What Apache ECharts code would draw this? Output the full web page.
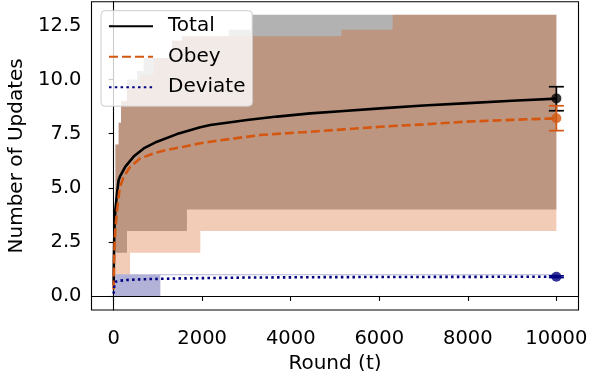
<!DOCTYPE html>
<html><head><meta charset="utf-8">
<script src="https://cdn.jsdelivr.net/npm/echarts@6/dist/echarts.min.js"></script>
<style>html,body{margin:0;padding:0;background:#fff}#c{width:589px;height:371px}</style>
</head><body><div id="c"></div>
<script>
// ---- data ----
const xTicks = [0, 2000, 4000, 6000, 8000, 10000];
const yTicks = [0, 2.5, 5, 7.5, 10, 12.5];
const totalT = [0, 8, 20, 38, 77, 113, 151, 264, 452, 678, 980, 1430, 1958, 2184, 3013, 3691, 4443, 5200, 6024, 7000, 7906, 9000, 10000];
const totalV = [0.5, 2.0, 3.2, 3.97, 4.75, 5.36, 5.55, 5.98, 6.44, 6.82, 7.13, 7.48, 7.8, 7.9, 8.13, 8.29, 8.44, 8.55, 8.67, 8.8, 8.9, 9.02, 9.12];
const obeyT = [0, 10, 20, 38, 77, 136, 226, 377, 603, 904, 1205, 1581, 1958, 2184, 3313, 4443, 5200, 6024, 7000, 7906, 9000, 10000];
const obeyV = [0.3, 1.5, 2.3, 3.1, 3.97, 4.98, 5.51, 5.98, 6.36, 6.59, 6.75, 6.9, 7.06, 7.13, 7.44, 7.59, 7.7, 7.82, 7.93, 8.05, 8.14, 8.21];
const devT = [0, 15, 40, 120, 300, 800, 1500, 3000, 5000, 7500, 10000];
const devV = [0.1, 0.5, 0.65, 0.7, 0.74, 0.78, 0.81, 0.85, 0.87, 0.88, 0.89];
// step bands: start times and values
const totalHiT = [40, 113, 167, 300, 527, 678, 1318, 1543, 2600, 3100];
const totalHiV = [7, 8, 9, 10, 10.4, 11, 11.8, 12, 12.3, 13];
const totalLoT = [40, 302, 1656];
const totalLoV = [2, 3, 4];
const obeyHiT = [40, 113, 167, 300, 600, 904, 1318, 1543, 5144, 6302];
const obeyHiV = [7, 8, 9, 9.6, 10.2, 11, 11.8, 12, 12.3, 13];
const obeyLoT = [40, 370, 1958];
const obeyLoV = [1, 2, 3];
const devHiT = [16, 1055];
const devHiV = [1.0, 1.0];
const devLoT = [16, 1055];
const devLoV = [0, 0.96];
const bandEnd = 10000;
// end-point error bars [t, mean, low, high]
const errTotal = [10000, 9.13, 8.56, 9.67];
const errObey = [10000, 8.21, 7.64, 8.79];
const errDev = [10000, 0.89, 0.85, 0.93];

const FONT = 'DejaVu Sans';
const cBlack = '#000000', cOrange = '#d5560f', cNavy = '#000080';

function pairs(t, v) { return t.map((x, i) => [x, v[i]]); }

function bandSeries(hiT, hiV, loT, loV, fill) {
  return {
    type: 'custom', z: 1, silent: true, data: [[0, 0]],
    renderItem: function (params, api) {
      const pts = [];
      for (let i = 0; i < hiT.length; i++) {
        const t1 = i + 1 < hiT.length ? hiT[i + 1] : bandEnd;
        pts.push(api.coord([hiT[i], hiV[i]]));
        pts.push(api.coord([t1, hiV[i]]));
      }
      for (let i = loT.length - 1; i >= 0; i--) {
        const t1 = i + 1 < loT.length ? loT[i + 1] : bandEnd;
        pts.push(api.coord([t1, loV[i]]));
        pts.push(api.coord([loT[i], loV[i]]));
      }
      return { type: 'polygon', shape: { points: pts }, style: { fill: fill } };
    }
  };
}

function errSeries(e, color) {
  return {
    type: 'custom', z: 5, silent: true, data: [[e[0], e[2], e[3]]],
    renderItem: function (params, api) {
      const top = api.coord([api.value(0), api.value(2)]);
      const bot = api.coord([api.value(0), api.value(1)]);
      const w = 7.5;
      const st = { stroke: color, lineWidth: 1.7 };
      return { type: 'group', children: [
        { type: 'line', shape: { x1: top[0], y1: top[1], x2: bot[0], y2: bot[1] }, style: st },
        { type: 'line', shape: { x1: top[0] - w, y1: top[1], x2: top[0] + w, y2: top[1] }, style: st },
        { type: 'line', shape: { x1: bot[0] - w, y1: bot[1], x2: bot[0] + w, y2: bot[1] }, style: st }
      ] };
    }
  };
}

const chart = echarts.init(document.getElementById('c'), null, { renderer: 'canvas' });
chart.setOption({
  animation: false,
  backgroundColor: '#ffffff',
  textStyle: { fontFamily: FONT },
  grid: { left: 91.5, right: 10.5, top: 1.7, bottom: 61, outerBoundsMode: 'none', containLabel: false,
    show: true, borderColor: '#000', borderWidth: 1.1, backgroundColor: 'transparent' },
  legend: {
    data: ['Total', 'Obey', 'Deviate'], orient: 'vertical', left: 101, top: 10.7,
    padding: [5.5, 7, 9, 7], itemGap: 10.5, itemWidth: 44, itemHeight: 14,
    backgroundColor: 'rgba(255,255,255,0.8)', borderColor: '#cccccc', borderWidth: 1, borderRadius: 4,
    itemStyle: { opacity: 0 },
    textStyle: { fontFamily: FONT, fontSize: 20, color: '#000', lineHeight: 20, padding: [0, 0, 0, 10] },
    selectedMode: false
  },
  xAxis: {
    type: 'value', min: -500, max: 10500,
    name: 'Round (t)', nameLocation: 'middle', nameGap: 44,
    nameTextStyle: { fontFamily: FONT, fontSize: 20, color: '#000' },
    axisLine: { show: true, lineStyle: { color: '#000', width: 1.1 } },
    axisTick: { show: true, length: 5, lineStyle: { color: '#000', width: 1.1 }, customValues: xTicks },
    axisLabel: { customValues: xTicks, fontFamily: FONT, fontSize: 19.5, color: '#000', margin: 19, formatter: v => String(Math.round(v)) },
    splitLine: { show: false }
  },
  yAxis: {
    type: 'value', min: -0.65, max: 13.6,
    name: 'Number of Updates', nameLocation: 'middle', nameGap: 50, nameRotate: 90,
    nameTextStyle: { fontFamily: FONT, fontSize: 20, color: '#000' },
    axisLine: { show: true, lineStyle: { color: '#000', width: 1.1 } },
    axisTick: { show: true, length: 5, lineStyle: { color: '#000', width: 1.1 }, customValues: yTicks },
    axisLabel: { customValues: yTicks, fontFamily: FONT, fontSize: 19.5, color: '#000', margin: 10, formatter: v => v.toFixed(1) },
    splitLine: { show: false }
  },
  series: [
    bandSeries(totalHiT, totalHiV, totalLoT, totalLoV, 'rgba(0,0,0,0.3)'),
    bandSeries(obeyHiT, obeyHiV, obeyLoT, obeyLoV, 'rgba(213,86,15,0.3)'),
    bandSeries(devHiT, devHiV, devLoT, devLoV, 'rgba(0,0,128,0.3)'),
    { name: 'Total', type: 'line', z: 3, data: pairs(totalT, totalV), symbol: 'none', showSymbol: false,
      lineStyle: { color: cBlack, width: 2.6 }, itemStyle: { color: cBlack } },
    { name: 'Obey', type: 'line', z: 3, data: pairs(obeyT, obeyV), symbol: 'none', showSymbol: false,
      lineStyle: { color: cOrange, width: 2.6, type: [9, 4] }, itemStyle: { color: cOrange } },
    { name: 'Deviate', type: 'line', z: 3, data: pairs(devT, devV), symbol: 'none', showSymbol: false,
      lineStyle: { color: cNavy, width: 2.6, type: [2.5, 3.3] }, itemStyle: { color: cNavy } },
    errSeries(errTotal, cBlack), errSeries(errObey, cOrange), errSeries(errDev, cNavy),
    { type: 'scatter', z: 6, symbolSize: 10, silent: true, data: [[errTotal[0], errTotal[1]]], itemStyle: { color: cBlack } },
    { type: 'scatter', z: 6, symbolSize: 10, silent: true, data: [[errObey[0], errObey[1]]], itemStyle: { color: cOrange } },
    { type: 'scatter', z: 6, symbolSize: 10, silent: true, data: [[errDev[0], errDev[1]]], itemStyle: { color: cNavy } }
  ]
});
</script></body></html>
